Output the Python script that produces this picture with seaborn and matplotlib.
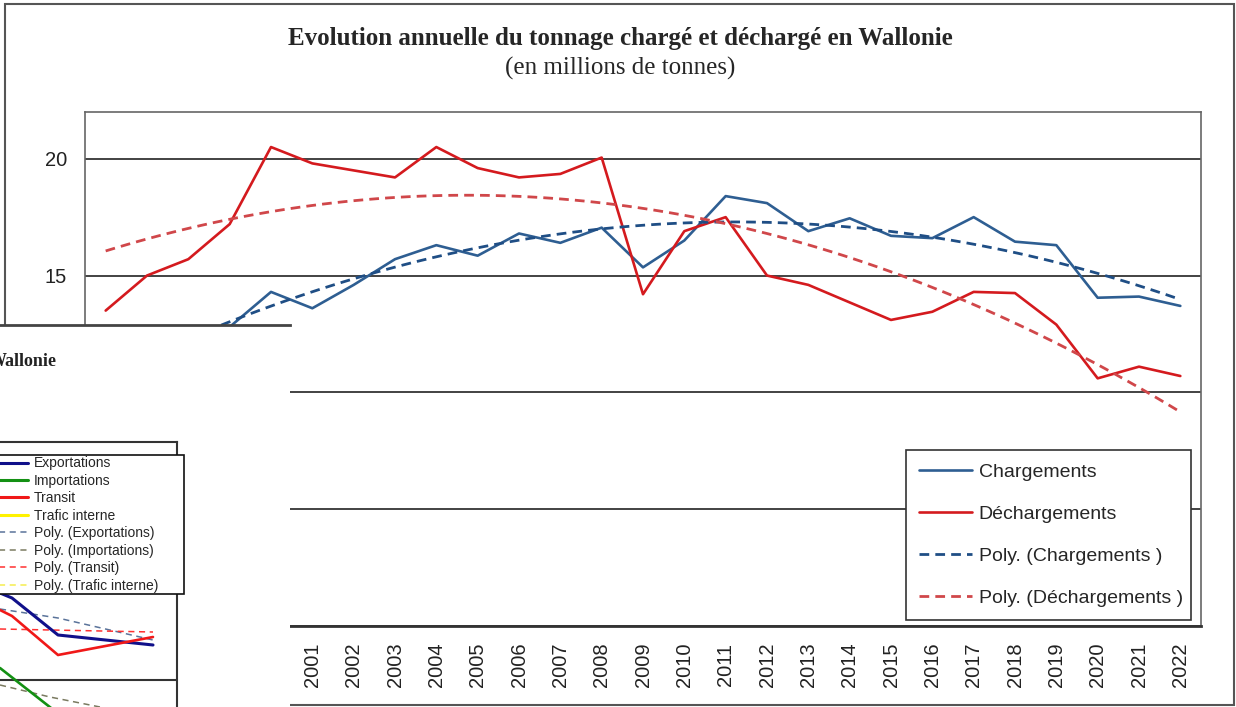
import numpy as np
import pandas as pd
import seaborn as sns
import matplotlib.pyplot as plt
from matplotlib.patches import Rectangle
from matplotlib.lines import Line2D

# données (millions de tonnes)
years = list(range(1996, 2023))
chargements = [11.0, 11.6, 12.2, 12.8, 14.3, 13.6, 14.6, 15.7, 16.3, 15.85,
               16.8, 16.4, 17.05, 15.35, 16.5, 18.4, 18.1, 16.9, 17.45, 16.7,
               16.6, 17.5, 16.45, 16.3, 14.05, 14.1, 13.7]
dechargements = [13.5, 15.0, 15.7, 17.2, 20.5, 19.8, 19.5, 19.2, 20.5, 19.6,
                 19.2, 19.35, 20.05, 14.2, 16.9, 17.5, 15.0, 14.6, 13.85, 13.1,
                 13.45, 14.3, 14.25, 12.9, 10.6, 11.1, 10.7]
y_ticks = [0, 5, 10, 15, 20]

# fragment du graphique recouvrant (coin inférieur gauche)
frag_x = [0, 12, 58, 153]
frag_exportations = [114, 109, 72, 62]
frag_transit = [97, 91, 52, 70]
frag_imp_x = [0, 60]
frag_importations = [39, -8]
frag_poly_exp_x = [0, 58, 153]
frag_poly_exp = [98, 89, 67]
frag_poly_tr_x = [0, 153]
frag_poly_tr = [78, 75]
frag_poly_imp_x = [0, 50, 110]
frag_poly_imp = [22, 10, -2]
frag_grid = [27]

df = pd.DataFrame({'annee': years, 'Chargements': chargements,
                   'Déchargements': dechargements})

sns.set_style('white')
plt.rcParams['font.family'] = ['Liberation Sans', 'DejaVu Sans']

W, H = 1236, 707
fig = plt.figure(figsize=(W / 100, H / 100), dpi=100)


def px(x0, y0, x1, y1):
    return [x0 / W, 1 - y1 / H, (x1 - x0) / W, (y1 - y0) / H]


# cadre extérieur
fig.patches.append(Rectangle((5 / W, 1 - 705 / H), 1229 / W, 701 / H,
                             transform=fig.transFigure, fill=False,
                             edgecolor='#555555', lw=1.5, zorder=0.5))

fig.text(620 / W, 1 - 38 / H,
         'Evolution annuelle du tonnage chargé et déchargé en Wallonie',
         ha='center', va='center', fontsize=18, fontweight='bold',
         family='Liberation Serif')
fig.text(620 / W, 1 - 68 / H, '(en millions de tonnes)', ha='center',
         va='center', fontsize=18, family='Liberation Serif')

ax = fig.add_axes(px(85, 112, 1201, 626))
sns.lineplot(data=df, x='annee', y='Chargements', color='#2E5E92', lw=1.9,
             label='Chargements', ax=ax, errorbar=None)
sns.lineplot(data=df, x='annee', y='Déchargements', color='#D41A1E', lw=1.9,
             label='Déchargements', ax=ax, errorbar=None)
sns.regplot(data=df, x='annee', y='Chargements', order=2, scatter=False,
            ci=None, truncate=True, ax=ax, label='Poly. (Chargements )',
            line_kws=dict(color='#1F4E85', lw=2.0, dashes=(3.5, 2.2)))
sns.regplot(data=df, x='annee', y='Déchargements', order=2, scatter=False,
            ci=None, truncate=True, ax=ax, label='Poly. (Déchargements )',
            line_kws=dict(color='#D0474A', lw=2.0, dashes=(3.5, 2.2)))

ax.set_xlim(1995.5, 2022.5)
ax.set_ylim(0, 22)
ax.set_yticks(y_ticks)
ax.set_xticks(years)
ax.set_xticklabels([str(y) for y in years], rotation=90)
ax.set_xlabel('')
ax.set_ylabel('')
ax.grid(axis='y', color='#222222', lw=1.2)
ax.grid(axis='x', visible=False)
ax.tick_params(axis='x', length=0, pad=12, labelsize=14.5, labelcolor='#222222')
ax.tick_params(axis='y', length=0, pad=13, labelsize=14.5, labelcolor='#222222')
for side in ['top', 'left', 'right']:
    ax.spines[side].set_color('#666666')
    ax.spines[side].set_linewidth(1.2)
ax.spines['bottom'].set_color('#333333')
ax.spines['bottom'].set_linewidth(2)

handles, labels = ax.get_legend_handles_labels()
leg = ax.legend(handles, labels, loc='upper left',
                bbox_to_anchor=(906 / W, 1 - 450 / H, 285 / W, 0),
                bbox_transform=fig.transFigure, mode='expand',
                borderaxespad=0, fontsize=14, frameon=True, fancybox=False,
                edgecolor='#333333', labelspacing=1.26, handlelength=2.7,
                handletextpad=0.35, borderpad=0.68)
leg.get_frame().set_linewidth(1.2)
leg.get_frame().set_alpha(1)

# panneau recouvrant
cover = fig.add_axes(px(0, 325, 290, 707), zorder=5)
cover.set_facecolor('white')
cover.set_xticks([])
cover.set_yticks([])
for side in ['left', 'right', 'bottom']:
    cover.spines[side].set_visible(False)
cover.spines['top'].set_color('#444444')
cover.spines['top'].set_linewidth(2)
cover.text(57 / W, 1 - 362 / H, 'Wallonie', transform=fig.transFigure,
           ha='right', va='center', fontsize=13, fontweight='bold',
           family='Liberation Serif', color='#222222')

frag = fig.add_axes(px(0, 442, 177, 707), zorder=6)
frag.set_facecolor('white')
frag.set_xlim(0, 177)
frag.set_ylim(0, 265)
sns.lineplot(x=frag_poly_exp_x, y=frag_poly_exp, color='#5A739A', lw=1.1,
             linestyle=(0, (4, 3)), ax=frag)
sns.lineplot(x=frag_poly_tr_x, y=frag_poly_tr, color='#FF3030', lw=1.1,
             linestyle=(0, (4, 3)), ax=frag)
sns.lineplot(x=frag_poly_imp_x, y=frag_poly_imp, color='#7A7A60', lw=1.1,
             linestyle=(0, (4, 3)), ax=frag)
sns.lineplot(x=frag_x, y=frag_exportations, color='#10108A', lw=2.2, ax=frag)
sns.lineplot(x=frag_x, y=frag_transit, color='#F01818', lw=1.9, ax=frag)
sns.lineplot(x=frag_imp_x, y=frag_importations, color='#139013', lw=1.9,
             ax=frag)
frag.set_xticks([])
frag.set_yticks(frag_grid)
frag.set_yticklabels([])
frag.tick_params(length=0)
frag.grid(axis='y', color='#333333', lw=1.5)
frag.spines['left'].set_visible(False)
frag.spines['bottom'].set_visible(False)
frag.spines['top'].set_color('#333333')
frag.spines['right'].set_color('#333333')
frag.spines['top'].set_linewidth(1.5)
frag.spines['right'].set_linewidth(1.5)

frag_handles = [
    Line2D([], [], color='#10108A', lw=2.2),
    Line2D([], [], color='#139013', lw=2.2),
    Line2D([], [], color='#F01818', lw=2.2),
    Line2D([], [], color='#FFF200', lw=2.2),
    Line2D([], [], color='#5A739A', lw=1.1, ls=(0, (4, 3))),
    Line2D([], [], color='#7A7A60', lw=1.1, ls=(0, (4, 3))),
    Line2D([], [], color='#FF3030', lw=1.1, ls=(0, (4, 3))),
    Line2D([], [], color='#F5EE50', lw=1.1, ls=(0, (4, 3))),
]
frag_labels = ['Exportations', 'Importations', 'Transit', 'Trafic interne',
               'Poly. (Exportations)', 'Poly. (Importations)',
               'Poly. (Transit)', 'Poly. (Trafic interne)']
fleg = frag.legend(frag_handles, frag_labels, loc='upper left',
                   bbox_to_anchor=(-60 / W, 1 - 455 / H, 244 / W, 0),
                   bbox_transform=fig.transFigure, mode='expand',
                   borderaxespad=0, fontsize=10, frameon=True,
                   fancybox=False, edgecolor='#111111', labelspacing=0.25,
                   handlelength=6.25, handletextpad=0.4, borderpad=0.1)
fleg.get_frame().set_linewidth(1.2)
fleg.get_frame().set_alpha(1)

fig.savefig('out.png', dpi=100)
